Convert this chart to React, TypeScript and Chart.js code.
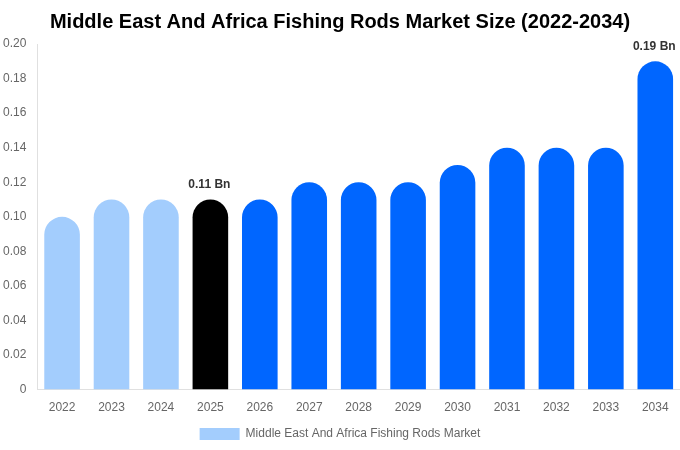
import React, { useEffect, useRef } from "react";
import { Chart, registerables } from "chart.js";

Chart.register(...registerables);

const years = ["2022","2023","2024","2025","2026","2027","2028","2029","2030","2031","2032","2033","2034"];
const values = [0.10, 0.11, 0.11, 0.11, 0.11, 0.12, 0.12, 0.12, 0.13, 0.14, 0.14, 0.14, 0.19];
const barColors = ["#a3cdfd","#a3cdfd","#a3cdfd","#000000","#0066ff","#0066ff","#0066ff","#0066ff","#0066ff","#0066ff","#0066ff","#0066ff","#0066ff"];
const labelledIndexes = [3, 12];
const seriesName = "Middle East And Africa Fishing Rods Market";
const titleText = "Middle East And Africa Fishing Rods Market Size (2022-2034)";

const valueLabels = {
  id: "valueLabels",
  afterDatasetsDraw(chart: any) {
    const ctx = chart.ctx;
    const meta = chart.getDatasetMeta(0);
    ctx.save();
    ctx.font = "bold 12px 'Liberation Sans', Arial, sans-serif";
    ctx.fillStyle = "#333333";
    ctx.textAlign = "center";
    ctx.textBaseline = "bottom";
    labelledIndexes.forEach((i) => {
      const el = meta.data[i];
      ctx.fillText(values[i].toFixed(2) + " Bn", el.x - 1, el.y - 9);
    });
    ctx.restore();
  },
};

export default function App() {
  const ref = useRef<HTMLCanvasElement>(null);
  useEffect(() => {
    document.body.style.margin = "0";
    const chart = new Chart(ref.current!, {
      type: "bar",
      data: {
        labels: years,
        datasets: [
          {
            label: seriesName,
            data: values,
            backgroundColor: barColors,
            borderRadius: 20,
            borderSkipped: "bottom",
            categoryPercentage: 0.8,
            barPercentage: 0.9,
          },
        ],
      },
      options: {
        animation: false,
        responsive: false,
        maintainAspectRatio: false,
        layout: { padding: { left: 0, right: 0, top: 0, bottom: 0 } },
        font: { family: "'Liberation Sans', Arial, sans-serif" } as any,
        plugins: {
          title: {
            display: true,
            text: titleText,
            color: "#000000",
            font: { size: 20, weight: "bold", family: "'Liberation Sans', Arial, sans-serif" },
            padding: { top: 10, bottom: 10 },
          },
          legend: {
            position: "bottom",
            labels: {
              color: "#666666",
              boxWidth: 40,
              boxHeight: 12,
              font: { size: 12, family: "'Liberation Sans', Arial, sans-serif" },
              generateLabels: () => [
                {
                  text: seriesName,
                  fillStyle: "#a3cdfd",
                  strokeStyle: "#a3cdfd",
                  lineWidth: 0,
                  hidden: false,
                  datasetIndex: 0,
                  fontColor: "#666666",
                } as any,
              ],
            },
          },
          tooltip: { enabled: false },
        },
        scales: {
          x: {
            grid: { display: false },
            border: { display: true, color: "#e0e0e0" },
            ticks: { color: "#666666", font: { size: 12, family: "'Liberation Sans', Arial, sans-serif" } },
          },
          y: {
            min: 0,
            max: 0.2,
            grid: { display: false },
            border: { display: true, color: "#e0e0e0" },
            ticks: {
              stepSize: 0.02,
              color: "#666666",
              font: { size: 12, family: "'Liberation Sans', Arial, sans-serif" },
              callback: (v: any) => (Number(v) === 0 ? "0" : Number(v).toFixed(2)),
            },
          },
        },
      },
      plugins: [valueLabels],
    });
    return () => chart.destroy();
  }, []);
  return (
    <div style={{ width: 680, height: 450 }}>
      <canvas ref={ref} width={680} height={450} />
    </div>
  );
}
